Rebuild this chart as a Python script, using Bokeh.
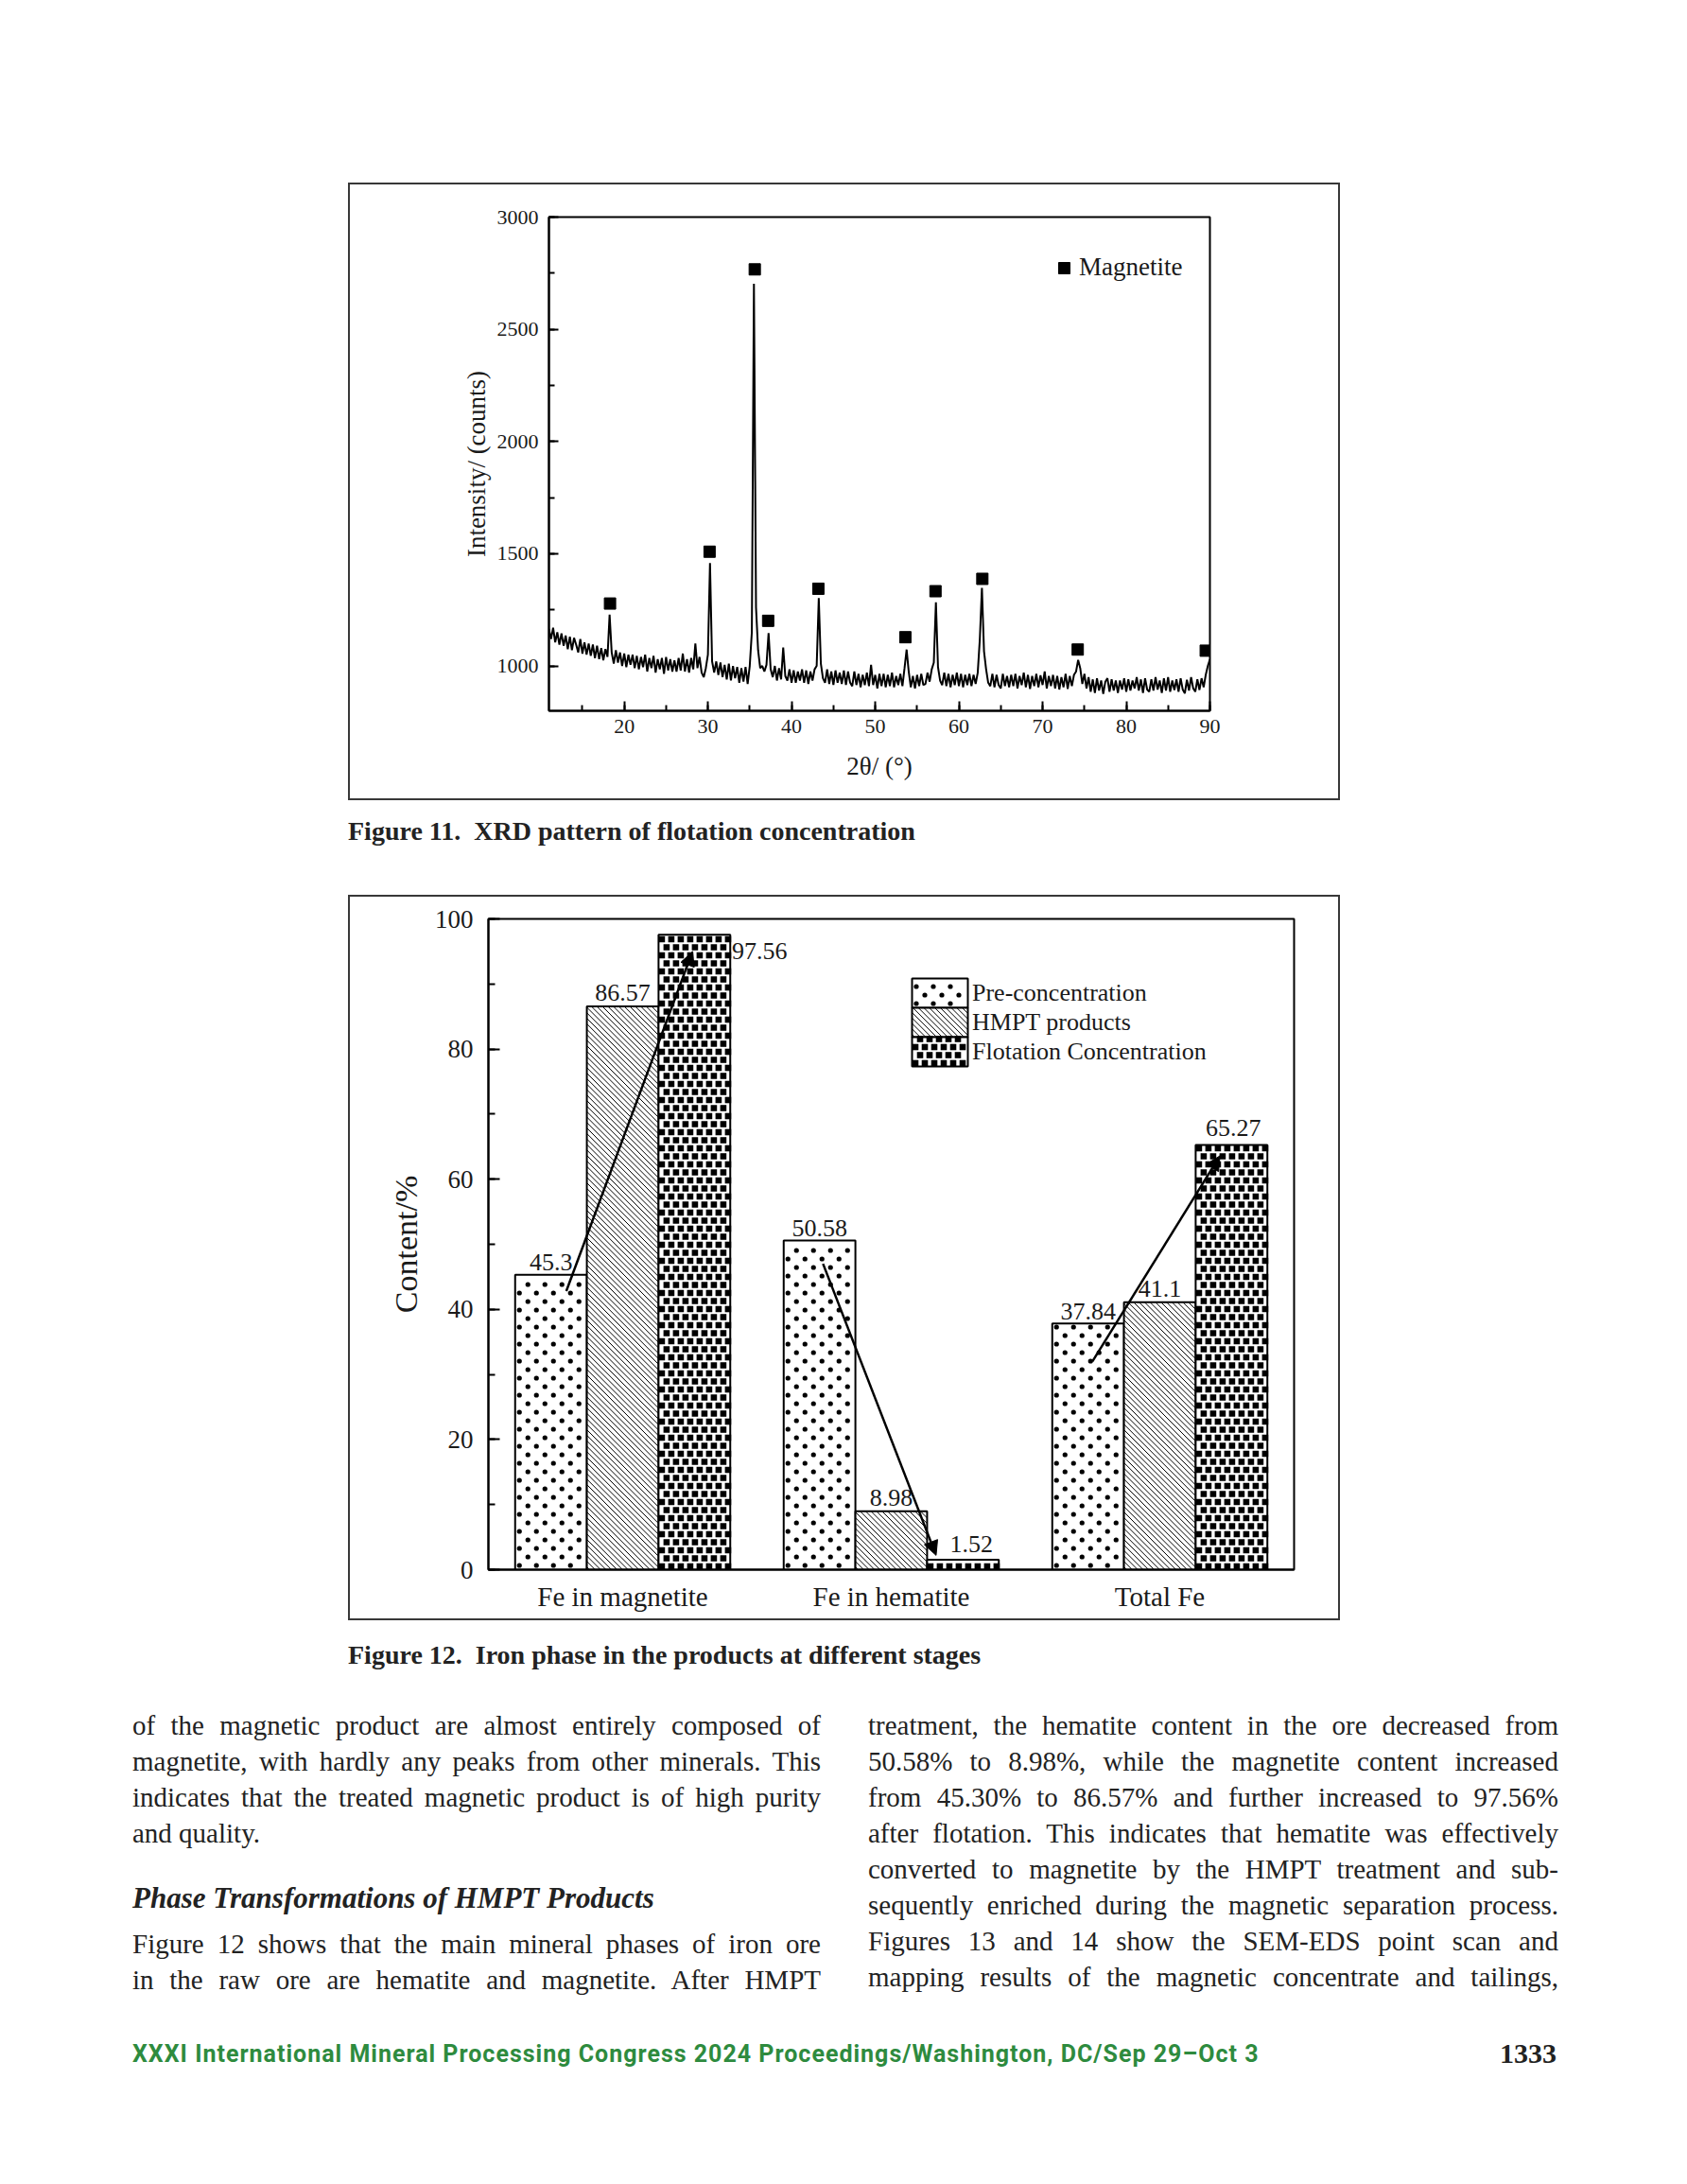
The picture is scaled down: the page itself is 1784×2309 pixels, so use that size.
import numpy as np
from bokeh.plotting import figure
from bokeh.models import (Range1d, FactorRange, Legend, LegendItem, Arrow, NormalHead,
                          ColumnDataSource, Div, Spacer, SingleIntervalTicker)
from bokeh.layouts import column, row
from bokeh.transform import dodge
from bokeh.core.properties import value
from bokeh.embed import file_html
from bokeh.resources import INLINE

SERIF = "Liberation Serif"
INK = "#1a1a1a"
BOX = "#383838"

# ---------------- Figure 11 data (XRD scan, 2theta 11..90 deg, 0.25 deg step) ----------------
scan_start = 11.0
scan_end = 90.0
intensity = [
    1165, 1120, 1170, 1105, 1150, 1095, 1145, 1090, 1135, 1075, 1130, 1070, 1125, 1095, 1060, 1120, 1055, 1105, 1050, 1100,
    1045, 1095, 1035, 1090, 1030, 1080, 1025, 1075, 1040, 1229, 1060, 1010, 1070, 1015, 1060, 1000, 1055, 995, 1050, 1005,
    1050, 990, 1045, 985, 1040, 995, 1050, 975, 1035, 990, 1045, 970, 1030, 985, 1035, 965, 1040, 980, 1030, 975,
    1025, 975, 1035, 980, 1055, 975, 1030, 970, 1035, 985, 1100, 990, 1040, 970, 950, 990, 1050, 1458, 1020, 970,
    1020, 960, 1015, 950, 1005, 940, 1010, 935, 1000, 945, 995, 925, 990, 930, 995, 920, 1000, 1150, 2703, 1260,
    1070, 990, 1000, 975, 1005, 1146, 985, 950, 1000, 935, 990, 940, 1082, 955, 935, 985, 925, 980, 925, 975,
    935, 985, 925, 980, 920, 975, 935, 985, 1000, 1302, 1010, 945, 925, 985, 920, 975, 915, 980, 925, 970,
    920, 980, 915, 975, 925, 910, 975, 915, 965, 905, 960, 915, 970, 910, 1005, 915, 960, 900, 965, 910,
    965, 905, 960, 910, 970, 905, 955, 915, 965, 910, 990, 1073, 975, 905, 955, 900, 960, 910, 965, 915,
    920, 970, 930, 985, 1015, 1284, 995, 935, 915, 970, 910, 965, 905, 960, 915, 970, 910, 965, 905, 960,
    915, 965, 910, 960, 920, 970, 1120, 1348, 1065, 985, 925, 910, 965, 905, 960, 915, 900, 965, 910, 955,
    905, 960, 910, 965, 900, 955, 915, 970, 905, 960, 898, 955, 910, 965, 905, 958, 915, 975, 900, 955,
    910, 960, 900, 955, 895, 950, 905, 965, 898, 955, 910, 960, 975, 1027, 990, 920, 965, 900, 950, 885,
    940, 880, 945, 890, 935, 875, 930, 945, 885, 940, 890, 935, 880, 935, 895, 945, 885, 940, 890, 935,
    900, 950, 890, 940, 880, 945, 895, 885, 940, 890, 950, 895, 935, 880, 945, 890, 950, 885, 935, 893,
    940, 885, 945, 895, 878, 938, 890, 950, 900, 885, 940, 893, 945, 905, 960, 1000, 1030,
]
two_theta = np.linspace(scan_start, scan_end, len(intensity))

magnetite_2theta = [18.3, 30.2, 35.6, 37.2, 43.2, 53.6, 57.2, 62.8, 74.2, 89.5]
magnetite_marker_y = [1278, 1509, 2767, 1201, 1344, 1128, 1333, 1388, 1073, 1068]

# ---------------- Figure 12 data ----------------
categories = ["Fe in magnetite", "Fe in hematite", "Total Fe"]
series_names = ["Pre-concentration", "HMPT products", "Flotation Concentration"]
pre_conc = [45.3, 50.58, 37.84]
hmpt_products = [86.57, 8.98, 41.1]
flotation_conc = [97.56, 1.52, 65.27]
pre_labels = ["45.3", "50.58", "37.84"]
hmpt_labels = ["86.57", "8.98", "41.1"]
flot_labels = ["97.56", "1.52", "65.27"]

# trend arrows (data coordinates)
arrow_x_start = [0.29, 1.246, 2.249]
arrow_y_start = [42.8, 47.0, 32.0]
arrow_x_end = [0.760, 1.667, 2.724]
arrow_y_end = [95.0, 2.2, 63.6]

BT = 2  # outer frame line thickness (px)


def boxed(p, w, h):
    """Surround a figure with a thin dark frame made of layout strips."""
    def strip(sw, sh):
        return Div(text="", width=sw, height=sh, margin=0, styles={"background-color": BOX})
    return column(strip(w, BT),
                  row(strip(BT, h - 2 * BT), p, strip(BT, h - 2 * BT), spacing=0),
                  strip(w, BT), spacing=0)


# ================= Figure 11 =================
W1, H1 = 1049, 653
p1 = figure(width=W1 - 2 * BT, height=H1 - 2 * BT, x_range=Range1d(scan_start, scan_end),
            y_range=Range1d(800, 3000),
            output_backend="svg", toolbar_location=None, margin=0,
            min_border_left=212 - BT, min_border_right=138 - BT, min_border_top=36 - BT,
            min_border_bottom=95 - BT,
            background_fill_color="white", border_fill_color="white")
p1.grid.visible = False
p1.outline_line_color = "black"
p1.outline_line_width = 2
p1.outline_line_alpha = 1

p1.line(two_theta, intensity, line_color="black", line_width=2.0)
mk = p1.scatter(magnetite_2theta, magnetite_marker_y, marker="square", size=12,
                fill_color="black", line_color="black")

p1.xaxis.ticker = SingleIntervalTicker(interval=10, num_minor_ticks=2)
p1.yaxis.ticker = SingleIntervalTicker(interval=500, num_minor_ticks=2)
p1.xaxis.axis_label = "2θ/ (°)"
p1.yaxis.axis_label = "Intensity/ (counts)"
for ax in (p1.xaxis[0], p1.yaxis[0]):
    ax.major_tick_in = 10
    ax.major_tick_out = 0
    ax.minor_tick_in = 6
    ax.minor_tick_out = 0
    ax.axis_line_width = 2
    ax.major_tick_line_width = 2
    ax.minor_tick_line_width = 2
    ax.major_label_text_font = SERIF
    ax.major_label_text_font_size = "22px"
    ax.major_label_text_color = INK
    ax.axis_label_text_font = SERIF
    ax.axis_label_text_font_size = "27px"
    ax.axis_label_text_font_style = "normal"
    ax.axis_label_text_color = INK
p1.yaxis.major_label_standoff = 11
p1.yaxis.axis_label_standoff = 4
p1.xaxis.major_label_standoff = 9
p1.xaxis.axis_label_standoff = 17

leg1 = Legend(items=[LegendItem(label="Magnetite", renderers=[mk])], location=(530, 453),
              glyph_width=30, glyph_height=30, label_standoff=1, padding=0, margin=0, spacing=0,
              border_line_alpha=0, background_fill_alpha=0,
              label_text_font=SERIF, label_text_font_size="27px", label_text_color=INK)
p1.add_layout(leg1)

# ================= Figure 12 =================
W2, H2 = 1049, 767
ML2, MR2, MT2, MB2 = 148, 49, 25, 54
p2 = figure(width=W2 - 2 * BT, height=H2 - 2 * BT, x_range=FactorRange(factors=categories, range_padding=0),
            y_range=Range1d(0, 100),
            output_backend="svg", toolbar_location=None, margin=0,
            min_border_left=ML2 - BT, min_border_right=MR2 - BT, min_border_top=MT2 - BT,
            min_border_bottom=MB2 - BT,
            background_fill_color="white", border_fill_color="white")
p2.grid.visible = False
p2.outline_line_color = "black"
p2.outline_line_width = 2
p2.outline_line_alpha = 1

# pixel size of one data unit in the frame (used only to lay out the fill textures)
PXX = (W2 - ML2 - MR2) / len(categories)
PXY = (H2 - MT2 - MB2) / 100.0


def dots_in(x0, x1, y0, y1):
    L, R, B, T = x0 * PXX, x1 * PXX, y0 * PXY, y1 * PXY
    xs, ys, k, y = [], [], 0, B + 4.5
    while y <= T - 2:
        x = L + (4.5 if k % 2 == 0 else 13.5)
        while x <= R - 2:
            xs.append(x / PXX)
            ys.append(y / PXY)
            x += 18
        y += 9
        k += 1
    return xs, ys


def hatch_in(x0, x1, y0, y1, step=5.8):
    L, R, B, T = x0 * PXX, x1 * PXX, y0 * PXY, y1 * PXY
    a, b, c, d = [], [], [], []
    u = L + B + step * 0.5
    while u < R + T:
        xa, xb = max(L, u - T), min(R, u - B)
        if xb > xa:
            a.append(xa / PXX); b.append((u - xa) / PXY)
            c.append(xb / PXX); d.append((u - xb) / PXY)
        u += step
    return a, b, c, d


def squares_in(x0, x1, y0, y1):
    L, R, B, T = x0 * PXX, x1 * PXX, y0 * PXY, y1 * PXY
    xs, ys, k, y = [], [], 0, B + 3.5
    while y <= T - 1.5:
        x = L + (3.5 if k % 2 == 0 else 8.5)
        while x <= R - 1.5:
            xs.append(x / PXX)
            ys.append(y / PXY)
            x += 10
        y += 8.5
        k += 1
    return xs, ys


def draw_texture(kind, rects):
    if kind == "dots":
        X, Y = [], []
        for r in rects:
            xs, ys = dots_in(*r); X += xs; Y += ys
        p2.scatter(X, Y, marker="circle", size=5.2, fill_color="black", line_color=None)
    elif kind == "hatch":
        A, B, C, D = [], [], [], []
        for r in rects:
            a, b, c, d = hatch_in(*r); A += a; B += b; C += c; D += d
        p2.segment(A, B, C, D, line_color="black", line_width=1.0)
    else:
        X, Y = [], []
        for r in rects:
            xs, ys = squares_in(*r); X += xs; Y += ys
        p2.scatter(X, Y, marker="square", size=6.6, fill_color="black", line_color=None)


BW = 0.267
offsets = [-BW, 0.0, BW]
series_vals = [pre_conc, hmpt_products, flotation_conc]
kinds = ["dots", "hatch", "squares"]
cols = ["pre", "hmpt", "flot"]

src = ColumnDataSource(dict(cat=categories, pre=pre_conc, hmpt=hmpt_products, flot=flotation_conc,
                            pre_lab=pre_labels, hmpt_lab=hmpt_labels, flot_lab=flot_labels))

for off, vals, kind, col in zip(offsets, series_vals, kinds, cols):
    p2.vbar(x=dodge("cat", off, range=p2.x_range), top=col, width=BW, source=src,
            fill_color="white", line_color=None)
    rects = [(i + 0.5 + off - BW / 2, i + 0.5 + off + BW / 2, 0.0, v) for i, v in enumerate(vals)]
    draw_texture(kind, rects)
    p2.vbar(x=dodge("cat", off, range=p2.x_range), top=col, width=BW, source=src,
            fill_alpha=0, line_color="black", line_width=2)

# legend boxes (textures drawn the same way) + legend text
LEG_X, LEG_TOP, LEG_W, LEG_H = 448, 63, 59, 31
FH = H2 - MT2 - MB2
for k, kind in enumerate(kinds):
    top_px = FH - LEG_TOP - LEG_H * k
    rect = (LEG_X / PXX, (LEG_X + LEG_W) / PXX, (top_px - LEG_H) / PXY, top_px / PXY)
    p2.quad(left=[rect[0]], right=[rect[1]], bottom=[rect[2]], top=[rect[3]],
            fill_color="white", line_color=None)
    draw_texture(kind, [rect])
    p2.quad(left=[rect[0]], right=[rect[1]], bottom=[rect[2]], top=[rect[3]],
            fill_alpha=0, line_color="black", line_width=2)

dummy = p2.vbar(x=dodge("cat", 0, range=p2.x_range), top="pre", width=BW, source=src,
                fill_alpha=0, line_alpha=0)
leg2 = Legend(items=[LegendItem(label=n, renderers=[dummy]) for n in series_names],
              location=(LEG_X, FH - LEG_TOP - 3 * LEG_H), glyph_width=LEG_W, glyph_height=LEG_H,
              spacing=0, padding=0, margin=0, label_standoff=5,
              border_line_alpha=0, background_fill_alpha=0,
              label_text_font=SERIF, label_text_font_size="26px", label_text_color=INK)
p2.add_layout(leg2)

label_style = dict(source=src, text_align="center", text_baseline="middle",
                   text_font=value(SERIF), text_font_size="26px", text_color=INK)
p2.text(x=dodge("cat", -BW, range=p2.x_range), y="pre", text="pre_lab", y_offset=-13, **label_style)
p2.text(x=dodge("cat", 0, range=p2.x_range), y="hmpt", text="hmpt_lab", y_offset=-14, **label_style)
flot_src = ColumnDataSource(dict(cat=categories, flot=flotation_conc, flot_lab=flot_labels,
                                 dx=[69, 9, 2], dy=[17, -17, -18]))
p2.text(x=dodge("cat", BW, range=p2.x_range), y="flot", text="flot_lab", x_offset="dx", y_offset="dy",
        source=flot_src, text_align="center", text_baseline="middle",
        text_font=value(SERIF), text_font_size="26px", text_color=INK)

for xs, ys, xe, ye in zip(arrow_x_start, arrow_y_start, arrow_x_end, arrow_y_end):
    p2.add_layout(Arrow(end=NormalHead(size=15, fill_color="black", line_color="black", line_width=1),
                        x_start=xs, y_start=ys, x_end=xe, y_end=ye,
                        line_color="black", line_width=2.5))

p2.yaxis.ticker = SingleIntervalTicker(interval=20, num_minor_ticks=2)
p2.yaxis.axis_label = "Content/%"
for ax in (p2.xaxis[0], p2.yaxis[0]):
    ax.axis_line_width = 2
    ax.major_tick_line_width = 2
    ax.minor_tick_line_width = 2
    ax.major_label_text_font = SERIF
    ax.major_label_text_color = INK
    ax.axis_label_text_font = SERIF
    ax.axis_label_text_font_style = "normal"
    ax.axis_label_text_color = INK
p2.yaxis.major_tick_in = 12
p2.yaxis.major_tick_out = 0
p2.yaxis.minor_tick_in = 7
p2.yaxis.minor_tick_out = 0
p2.yaxis.major_label_text_font_size = "27px"
p2.yaxis.axis_label_text_font_size = "34px"
p2.yaxis.major_label_standoff = 16
p2.yaxis.axis_label_standoff = 9
p2.xaxis.major_tick_in = 0
p2.xaxis.major_tick_out = 0
p2.xaxis.major_label_text_font_size = "29px"
p2.xaxis.major_label_standoff = 12

# ================= page text =================
BODY = "font-family:'Liberation Serif';font-size:29px;color:#222;line-height:38px;"
CAP = ("font-family:'Liberation Serif';font-weight:bold;font-size:28px;line-height:32px;"
       "color:#222;white-space:nowrap;")


def line(text, left, cy, width, justify=True, extra=""):
    align = "text-align:justify;text-align-last:justify;" if justify else "text-align:left;"
    return (f'<div style="position:absolute;left:{left}px;top:{cy - 19}px;width:{width}px;'
            f'{BODY}{align}{extra}">{text}</div>')


cap1_html = ('<div style="position:relative;width:1768px;height:100px;">'
             f'<div style="position:absolute;left:368px;top:17px;{CAP}">'
             'Figure 11.&nbsp; XRD pattern of flotation concentration</div></div>')
cap1 = Div(text=cap1_html, width=1768, height=100, margin=0)

left_lines = [
    "of the magnetic product are almost entirely composed of",
    "magnetite, with hardly any peaks from other minerals. This",
    "indicates that the treated magnetic product is of high purity",
    "and quality.",
]
left_lines2 = [
    "Figure 12 shows that the main mineral phases of iron ore",
    "in the raw ore are hematite and magnetite. After HMPT",
]
right_lines = [
    "treatment, the hematite content in the ore decreased from",
    "50.58% to 8.98%, while the magnetite content increased",
    "from 45.30% to 86.57% and further increased to 97.56%",
    "after flotation. This indicates that hematite was effectively",
    "converted to magnetite by the HMPT treatment and sub-",
    "sequently enriched during the magnetic separation process.",
    "Figures 13 and 14 show the SEM-EDS point scan and",
    "mapping results of the magnetic concentrate and tailings,",
]

Y0 = 111  # first body line centre (relative to this block)
parts = ['<div style="position:relative;width:1768px;height:598px;">']
parts.append(f'<div style="position:absolute;left:368px;top:21px;{CAP}">'
             'Figure 12.&nbsp; Iron phase in the products at different stages</div>')
for i, t in enumerate(left_lines):
    parts.append(line(t, 140, Y0 + 38 * i, 728, justify=(i < 3)))
parts.append(line("Phase Transformations of HMPT Products", 140, Y0 + 183, 728, justify=False,
                  extra="font-weight:bold;font-style:italic;font-size:31px;white-space:nowrap;"))
for i, t in enumerate(left_lines2):
    parts.append(line(t, 140, Y0 + 231 + 38 * i, 728))
for i, t in enumerate(right_lines):
    parts.append(line(t, 918, Y0 + 38 * i, 730))
parts.append('<div style="position:absolute;left:140px;top:444px;white-space:nowrap;'
             'font-family:Roboto;font-weight:bold;font-size:25px;letter-spacing:1px;line-height:30px;'
             'color:#2e8b3e;">'
             'XXXI International Mineral Processing Congress 2024 Proceedings/Washington, DC/Sep 29–Oct 3</div>')
parts.append('<div style="position:absolute;left:1446px;top:442px;width:200px;text-align:right;'
             'font-family:\'Liberation Serif\';font-weight:bold;font-size:30px;line-height:32px;color:#222;">'
             '1333</div>')
parts.append('</div>')
rest = Div(text="".join(parts), width=1768, height=598, margin=0)

root = column(
    Spacer(width=1768, height=193, margin=0),
    row(Spacer(width=368, height=H1, margin=0), boxed(p1, W1, H1), spacing=0),
    cap1,
    row(Spacer(width=368, height=H2, margin=0), boxed(p2, W2, H2), spacing=0),
    rest,
    spacing=0,
)

open("out.html", "w").write(file_html(root, INLINE))
